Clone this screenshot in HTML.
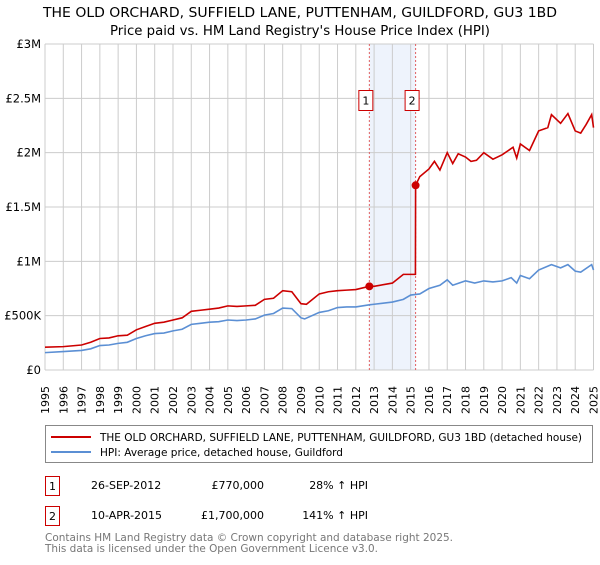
<!DOCTYPE html>
<html><head><meta charset="utf-8"><style>
body{margin:0;width:600px;height:560px;background:#fff;font-family:"Liberation Sans","DejaVu Sans",sans-serif;overflow:hidden}
svg text{font-family:"DejaVu Sans","Liberation Sans",sans-serif}
</style></head><body>
<svg width="600" height="560">
<text x="43" y="17" font-size="13" textLength="514" lengthAdjust="spacingAndGlyphs">THE OLD ORCHARD, SUFFIELD LANE, PUTTENHAM, GUILDFORD, GU3 1BD</text>
<text x="110" y="35" font-size="13" textLength="380" lengthAdjust="spacingAndGlyphs">Price paid vs. HM Land Registry's House Price Index (HPI)</text>
<g id="plot"></g>
<rect x="45.5" y="425.5" width="547" height="37" fill="#fff" stroke="#888"/>
<line x1="51" y1="437" x2="91" y2="437" stroke="#cc0000" stroke-width="2"/>
<text x="100" y="441" font-size="11" textLength="482" lengthAdjust="spacingAndGlyphs">THE OLD ORCHARD, SUFFIELD LANE, PUTTENHAM, GUILDFORD, GU3 1BD (detached house)</text>
<line x1="51" y1="452" x2="91" y2="452" stroke="#5b8fd4" stroke-width="2"/>
<text x="100" y="456" font-size="11" textLength="243" lengthAdjust="spacingAndGlyphs">HPI: Average price, detached house, Guildford</text>
<g font-size="11">
<rect x="45.5" y="476.5" width="14" height="19" fill="#fff" stroke="#cc0000"/><text x="52.5" y="490" text-anchor="middle">1</text>
<text x="91" y="489">26-SEP-2012</text><text x="264" y="489" text-anchor="end">£770,000</text><text x="368" y="489" text-anchor="end">28% ↑ HPI</text></g>
<g font-size="11">
<rect x="45.5" y="506.5" width="14" height="19" fill="#fff" stroke="#cc0000"/><text x="52.5" y="520" text-anchor="middle">2</text>
<text x="91" y="519">10-APR-2015</text><text x="264" y="519" text-anchor="end">£1,700,000</text><text x="368" y="519" text-anchor="end">141% ↑ HPI</text></g>
<text x="45" y="541" font-size="11" fill="#777" textLength="408" lengthAdjust="spacingAndGlyphs">Contains HM Land Registry data © Crown copyright and database right 2025.</text>
<text x="45" y="552" font-size="11" fill="#777" textLength="333" lengthAdjust="spacingAndGlyphs">This data is licensed under the Open Government Licence v3.0.</text>
</svg>
<script>
const redX=[1995,1996,1997,1997.5,1998,1998.5,1999,1999.5,2000,2000.5,2001,2001.5,2002,2002.5,2003,2003.5,2004,2004.5,2005,2005.5,2006,2006.5,2007,2007.5,2008,2008.5,2009,2009.3,2010,2010.5,2011,2011.5,2012,2012.74,2013,2014,2014.6,2015.26,2015.27,2015.5,2016,2016.3,2016.6,2017,2017.3,2017.6,2018,2018.3,2018.6,2019,2019.5,2020,2020.6,2020.8,2021,2021.5,2022,2022.5,2022.7,2023.2,2023.6,2024,2024.3,2024.6,2024.9,2025];
const redV=[210,215,230,255,290,295,315,320,370,400,430,440,460,480,540,550,560,570,590,585,590,595,650,660,730,720,610,605,700,720,730,735,740,770,770,800,880,880,1700,1780,1850,1920,1840,2000,1900,1990,1960,1920,1930,2000,1940,1980,2050,1950,2080,2020,2200,2230,2350,2270,2360,2200,2180,2260,2350,2230];
const hpiX=[1995,1996,1997,1997.5,1998,1998.5,1999,1999.5,2000,2000.5,2001,2001.5,2002,2002.5,2003,2003.5,2004,2004.5,2005,2005.5,2006,2006.5,2007,2007.5,2008,2008.5,2009,2009.2,2010,2010.5,2011,2011.5,2012,2012.74,2013,2014,2014.6,2015,2015.5,2016,2016.6,2017,2017.3,2018,2018.5,2019,2019.5,2020,2020.5,2020.8,2021,2021.5,2022,2022.7,2023.2,2023.6,2024,2024.3,2024.9,2025];
const hpiV=[160,170,180,195,225,230,245,255,290,315,335,340,360,375,420,430,440,445,460,455,460,470,505,520,570,565,480,470,530,545,575,580,580,600,605,625,650,690,700,750,780,830,780,820,800,820,810,820,850,800,870,840,920,970,940,970,910,900,970,920];
const tickY=[0,500,1000,1500,2000,2500,3000];
const tickYLabels=["£0","£500K","£1M","£1.5M","£2M","£2.5M","£3M"];
const years=[];for(let y=1995;y<=2025;y++)years.push(y);
const sales=[{n:"1",x:2012.74,v:770},{n:"2",x:2015.27,v:1700}];
const L=45,R=593.5,T=44,B=370;
const sx=x=>L+(x-1995)/30*(R-L);
const sy=v=>B-v/3000*(B-T);
const NS="http://www.w3.org/2000/svg";
const g=document.getElementById('plot');
function mk(t,a){const e=document.createElementNS(NS,t);for(const k in a)e.setAttribute(k,a[k]);g.appendChild(e);return e;}
const sh=mk('rect',{x:sx(sales[0].x),y:T,width:sx(sales[1].x)-sx(sales[0].x),height:B-T,fill:'#eef3fc'});


years.forEach(y=>{const l=mk('line',{x1:sx(y),x2:sx(y),y1:T,y2:B,stroke:'#ccc'});


const tx=sx(y)+4,ty=B+44;
const t=mk('text',{x:tx,y:ty,'font-size':'11',transform:'rotate(-90 '+tx+' '+ty+')'});t.textContent=y;

});
tickY.forEach((v,i)=>{const l=mk('line',{x1:L,x2:R,y1:sy(v),y2:sy(v),stroke:'#ccc'});


const t=mk('text',{x:L-4,y:sy(v)+4,'font-size':'11.5','text-anchor':'end'});t.textContent=tickYLabels[i];

});
sales.forEach(s=>{const l=mk('line',{x1:sx(s.x),x2:sx(s.x),y1:T,y2:B,stroke:'#e06060','stroke-dasharray':'2,2'});


const r=mk('rect',{x:sx(s.x)-10.5,y:90.5,width:14,height:20,fill:'#fff',stroke:'#cc0000'});


const t=mk('text',{x:sx(s.x)-3.5,y:104.5,'font-size':'11','text-anchor':'middle'});t.textContent=s.n;

});
function line(xs,vs,c,name){const p=mk('polyline',{points:xs.map((x,i)=>sx(x)+','+sy(vs[i])).join(' '),fill:'none',stroke:c,'stroke-width':'1.6'});

}
line(hpiX,hpiV,'#5b8fd4','hpi-line');
line(redX,redV,'#cc0000','property-price-line');
sales.forEach(s=>{const c=mk('circle',{cx:sx(s.x),cy:sy(s.v),r:4,fill:'#cc0000'});

});
</script>
</body></html>
